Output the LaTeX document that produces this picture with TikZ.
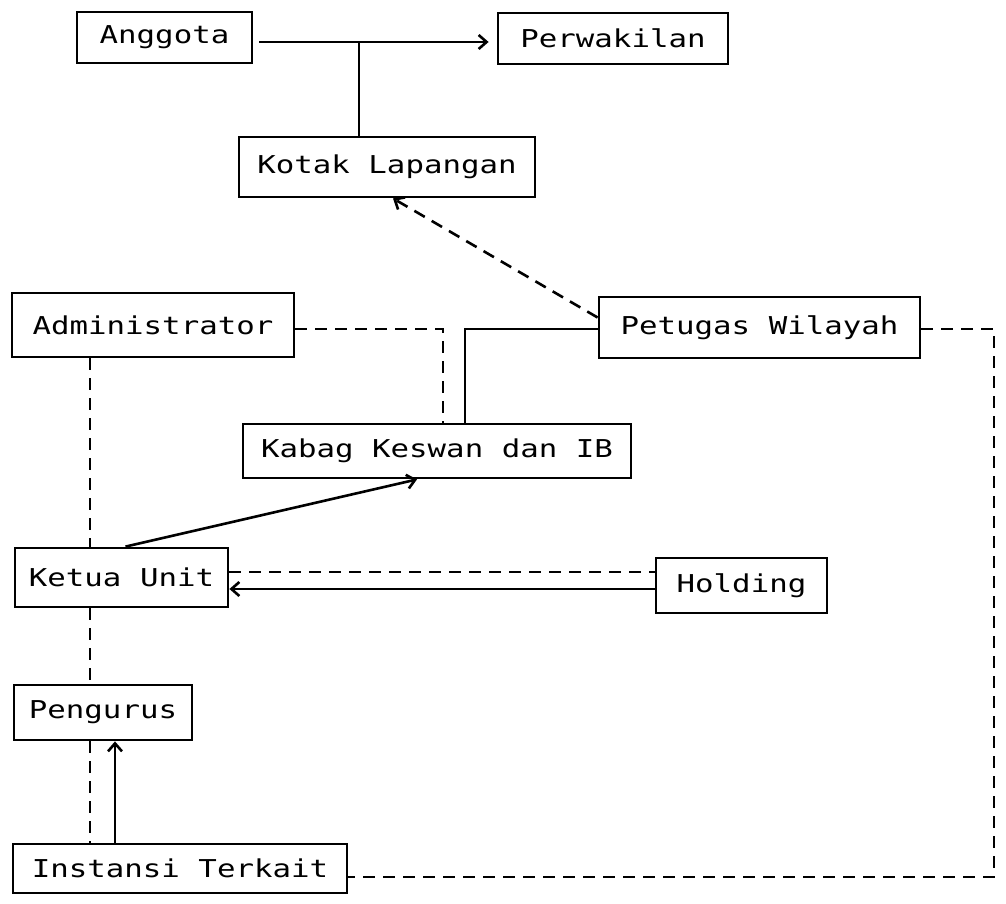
\documentclass[tikz,border=0pt]{standalone}
\usepackage{fontspec}
\newfontfamily\dotfont[FakeStretch=1.25]{DejaVu Sans Mono}
\usetikzlibrary{shapes, arrows.meta, calc}
\tikzstyle{box}=[draw, line width=1.4pt, inner sep=0pt,
    font=\dotfont\fontsize{12.3}{14}\selectfont]
\tikzstyle{link}=[line width=1.3pt]
\tikzstyle{dlink}=[line width=1.3pt, dash pattern=on 6pt off 4pt]

\begin{document}
\begin{tikzpicture}[x=0.5pt,y=-0.5pt,>={Straight Barb[length=4pt,width=7pt]}]
    \useasboundingbox (0,0) rectangle (1006,904);
    \path (164.5,37.5) node (anggota) [box, minimum width=87.5pt, minimum height=25.5pt] {Anggota};
    \path (613,38.5) node (perwakilan) [box, minimum width=115pt, minimum height=25.5pt] {Perwakilan};
    \path (387,167) node (kotak) [box, minimum width=148pt, minimum height=30pt] {Kotak Lapangan};
    \path (153,325) node (admin) [box, minimum width=141pt, minimum height=32pt] {Administrator};
    \path (759.5,327.5) node (petugas) [box, minimum width=160.5pt, minimum height=30.5pt] {Petugas Wilayah};
    \path (437,451) node (kabag) [box, minimum width=194pt, minimum height=27pt] {Kabag Keswan dan IB};
    \path (121.5,577.5) node (ketua) [box, minimum width=106.5pt, minimum height=29.5pt] {Ketua Unit};
    \path (741.5,585.5) node (holding) [box, minimum width=85.5pt, minimum height=27.5pt] {Holding};
    \path (103,712.5) node (pengurus) [box, minimum width=89pt, minimum height=27.5pt] {Pengurus};
    \path (180,868.5) node (instansi) [box, minimum width=167pt, minimum height=24.5pt] {Instansi Terkait};
    \coordinate (aj) at (359,42);
    \coordinate (ad) at (443,329);
    \coordinate (pk) at (465,329);
    \coordinate (pr) at (994,329);
    \coordinate (ir) at (994,877);
    \coordinate (vx) at (90,0);
    \coordinate (ix) at (115,0);
    \draw [link,->,shorten <=3pt,shorten >=4pt] (anggota.east |- aj) -- (perwakilan.west |- aj);
    \draw [link] (aj) -- (aj |- kotak.north);
    \draw [dlink,->] ([yshift=5pt]petugas.west) -- ([xshift=3pt]kotak.south);
    \draw [dlink] (admin.east |- ad) -- (ad) -- (ad |- kabag.north);
    \draw [link] (petugas.west |- pk) -- (pk) -- (pk |- kabag.north);
    \draw [dlink] (petugas.east |- pr) -- (pr) -- (ir) -- (instansi.east |- ir);
    \draw [link,->] ([xshift=2pt]ketua.north) -- ([xshift=-10pt]kabag.south);
    \draw [dlink] ([yshift=2.75pt]ketua.east) -- ([yshift=2.75pt]ketua.east -| holding.west);
    \draw [link,->] ([yshift=-1.75pt]holding.west) -- ([yshift=-1.75pt]holding.west -| ketua.east);
    \draw [dlink] (admin.south -| vx) -- (ketua.north -| vx);
    \draw [dlink] (ketua.south -| vx) -- (pengurus.north -| vx);
    \draw [dlink] (pengurus.south -| vx) -- (instansi.north -| vx);
    \draw [link,->] (instansi.north -| ix) -- (pengurus.south -| ix);
\end{tikzpicture}
\end{document}
